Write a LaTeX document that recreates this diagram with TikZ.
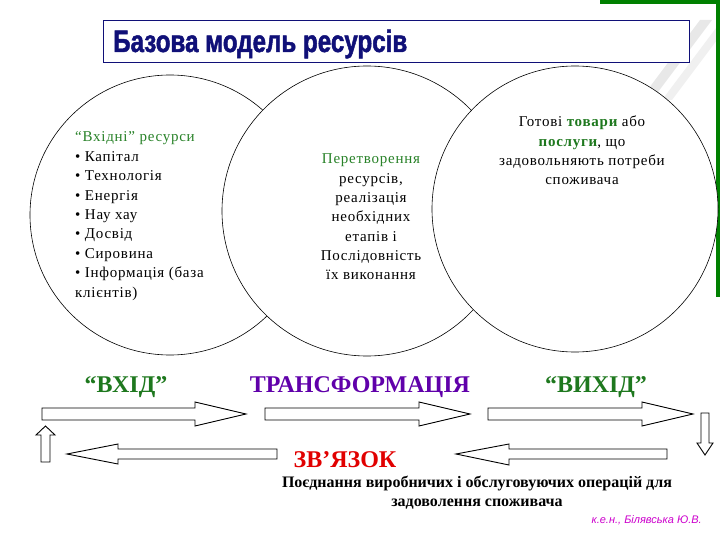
\documentclass[tikz,border=0pt]{standalone}
\usepackage{fontspec}
\setmainfont{Liberation Serif}
\newfontfamily\titlefont[FakeStretch=0.78,FakeBold=1.5]{Liberation Sans Bold}
\newfontfamily\bodyfont[LetterSpace=5]{Liberation Serif}
\newfontfamily\sigfont{Liberation Sans}
\definecolor{navy}{RGB}{16,16,120}
\definecolor{dgreen}{RGB}{30,120,30}
\definecolor{lgreen}{RGB}{40,130,40}
\definecolor{purp}{RGB}{96,0,170}
\definecolor{sred}{RGB}{225,0,0}
\definecolor{sig}{RGB}{204,0,204}
\definecolor{bgreen}{RGB}{0,128,0}
\tikzset{
  circ/.style={draw=black, line width=0.6pt, fill=white},
  blk/.style={draw=black, line width=0.9pt, fill=white, line join=miter},
  body/.style={font=\bodyfont\fontsize{15}{18}\selectfont, inner sep=0pt},
  big/.style={font=\fontsize{24}{28}\selectfont\bfseries, inner sep=0pt},
}
\begin{document}
\begin{tikzpicture}[x=1pt,y=-1pt]
\useasboundingbox (0,0) rectangle (720,540);
% slide decoration
\fill[gray!18] (640,100) -- (700,20) -- (712,20) -- (652,100) -- cycle;
\fill[gray!12] (662,100) -- (716,28) -- (720,28) -- (720,36) -- (672,100) -- cycle;
\fill[bgreen] (600,0) rectangle (720,4);
\fill[bgreen] (716,0) rectangle (720,297);
% title
\node[draw=navy, line width=0.8pt, fill=white, minimum width=586pt, minimum height=42pt, anchor=north west, inner sep=0pt] (titlebox) at (103,20) {};
\node[anchor=base west, inner sep=0pt, text=navy, font=\titlefont\fontsize{31}{34}\selectfont] (title) at (113,52) {Базова модель ресурсів};
% circles
\node[circ, circle, minimum size=280pt, inner sep=0pt] (c1) at (170,215) {};
\node[circ, circle, minimum size=290pt, inner sep=0pt] (c2) at (367,211) {};
\node[circ, circle, minimum size=286pt, inner sep=0pt] (c3) at (575,209) {};
% left text
\node[body, anchor=base west, text=lgreen] (l1) at (75,142) {“Вхідні” ресурси};
\node[body, anchor=base west] (l2) at (75,161.4) {• Капітал};
\node[body, anchor=base west] (l3) at (75,180.8) {• Технологія};
\node[body, anchor=base west] (l4) at (75,200.2) {• Енергія};
\node[body, anchor=base west] (l5) at (75,219.6) {• Нау хау};
\node[body, anchor=base west] (l6) at (75,239) {• Досвід};
\node[body, anchor=base west] (l7) at (75,258.4) {• Сировина};
\node[body, anchor=base west] (l8) at (75,277.8) {• Інформація (база};
\node[body, anchor=base west] (l9) at (75,297.2) {клієнтів)};
% middle text
\node[body, anchor=base, text=lgreen] (m1) at (371,164) {Перетворення};
\node[body, anchor=base] (m2) at (371,183.3) {ресурсів,};
\node[body, anchor=base] (m3) at (371,202.6) {реалізація};
\node[body, anchor=base] (m4) at (371,221.9) {необхідних};
\node[body, anchor=base] (m5) at (371,241.2) {етапів і};
\node[body, anchor=base] (m6) at (371,260.5) {Послідовність};
\node[body, anchor=base] (m7) at (371,279.8) {їх виконання};
% right text
\node[body, anchor=base] (r1) at (582,127) {Готові \textcolor{dgreen}{\bfseries товари} або};
\node[body, anchor=base] (r2) at (582,146.3) {\textcolor{dgreen}{\bfseries послуги}, що};
\node[body, anchor=base] (r3) at (582,165.6) {задовольняють потреби};
\node[body, anchor=base] (r4) at (582,185) {споживача};
% big labels
\node[big, anchor=base, text=dgreen] (vhid) at (126,392) {“ВХІД”};
\node[big, anchor=base, text=purp] (trans) at (360,392) {ТРАНСФОРМАЦІЯ};
\node[big, anchor=base, text=dgreen] (vyhid) at (596,392) {“ВИХІД”};
\node[big, anchor=base, text=sred] (zv) at (345,467) {ЗВ’ЯЗОК};
% block arrows (right)
\draw[blk] (42,408) -- (195,408) -- (195,402) -- (246,414) -- (195,426) -- (195,420) -- (42,420) -- cycle;
\draw[blk] (265,408) -- (419,408) -- (419,402) -- (470,414) -- (419,426) -- (419,420) -- (265,420) -- cycle;
\draw[blk] (488,408) -- (642,408) -- (642,402) -- (693,414) -- (642,426) -- (642,420) -- (488,420) -- cycle;
% block arrows (left)
\draw[blk] (277,449) -- (118,449) -- (118,444) -- (67,454) -- (118,464) -- (118,459) -- (277,459) -- cycle;
\draw[blk] (667,449) -- (509,449) -- (509,444) -- (456,454) -- (509,465) -- (509,459) -- (667,459) -- cycle;
% up and down arrows
\draw[blk] (41,462) -- (41,435) -- (36,435) -- (45.5,426) -- (55,435) -- (50,435) -- (50,462) -- cycle;
\draw[blk] (701,413) -- (701,443) -- (697,443) -- (705,455) -- (713,443) -- (709,443) -- (709,413) -- cycle;
% bottom text
\node[anchor=base, inner sep=0pt, font=\fontsize{16}{18}\selectfont\bfseries] (b1) at (477,487) {Поєднання виробничих і обслуговуючих операцій для};
\node[anchor=base, inner sep=0pt, font=\fontsize{16}{18}\selectfont\bfseries] (b2) at (477,506) {задоволення споживача};
\node[anchor=base east, inner sep=0pt, text=sig, font=\sigfont\itshape\fontsize{11}{12}\selectfont] (sg) at (702,523) {к.е.н., Білявська Ю.В.};
\end{tikzpicture}
\end{document}
